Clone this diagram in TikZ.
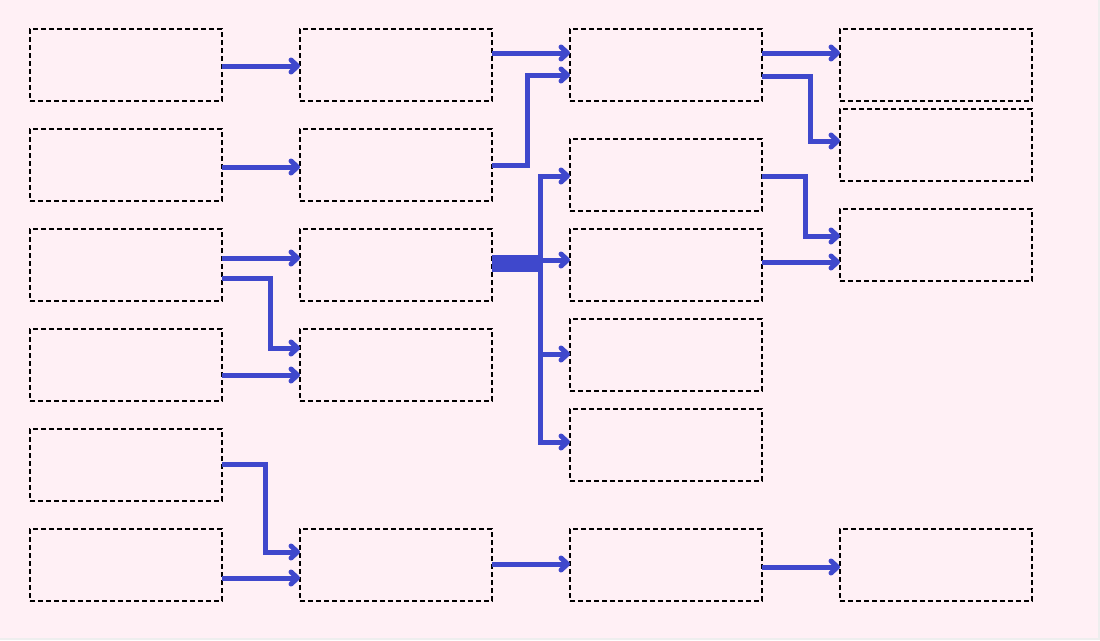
\documentclass[tikz,border=0pt]{standalone}
\usetikzlibrary{arrows.meta}
\definecolor{bg}{HTML}{FFF0F5}
\definecolor{edge}{HTML}{EEEEEE}
\definecolor{arrblue}{HTML}{3F48CC}
\begin{document}
\begin{tikzpicture}[x=1pt,y=-1pt,
  box/.style={draw=black,dash pattern=on 5pt off 3pt,line width=1.5pt,minimum width=192pt,minimum height=72pt,inner sep=0pt,outer sep=0pt},
  arr/.style={draw=arrblue,line width=5pt,line join=miter,-{Straight Barb[length=6.5pt,width=12pt,line cap=round,line join=round]}}]
\fill[edge] (0,0) rectangle (1100,640);
\fill[bg] (0,0) rectangle (1098,638);
\useasboundingbox (0,0) rectangle (1100,640);
% column 1
\node[box] (c11) at (126,65) {};
\node[box] (c12) at (126,165) {};
\node[box] (c13) at (126,265) {};
\node[box] (c14) at (126,365) {};
\node[box] (c15) at (126,465) {};
\node[box] (c16) at (126,565) {};
% column 2
\node[box] (c21) at (396,65) {};
\node[box] (c22) at (396,165) {};
\node[box] (c23) at (396,265) {};
\node[box] (c24) at (396,365) {};
\node[box] (c26) at (396,565) {};
% column 3
\node[box] (c31) at (666,65) {};
\node[box] (c32) at (666,175) {};
\node[box] (c33) at (666,265) {};
\node[box] (c34) at (666,355) {};
\node[box] (c35) at (666,445) {};
\node[box] (c36) at (666,565) {};
% column 4
\node[box] (c41) at (936,65) {};
\node[box] (c42) at (936,145) {};
\node[box] (c43) at (936,245) {};
\node[box] (c46) at (936,565) {};
% connectors col1 -> col2
\draw[arr] ([yshift=-1pt]c11.east) coordinate (a1) -- (a1 -| c21.west);
\draw[arr] ([yshift=-2pt]c12.east) coordinate (a2) -- (a2 -| c22.west);
\draw[arr] ([yshift=7pt]c13.east) coordinate (a3) -- (a3 -| c23.west);
\draw[arr] ([yshift=-13pt]c13.east) -- ++(48,0) |- ([yshift=17pt]c24.west);
\draw[arr] ([yshift=-10pt]c14.east) coordinate (a5) -- (a5 -| c24.west);
\draw[arr] ([yshift=1pt]c15.east) -- ++(43,0) |- ([yshift=13pt]c26.west);
\draw[arr] ([yshift=-13pt]c16.east) coordinate (a7) -- (a7 -| c26.west);
% col2 -> col3
\draw[arr] ([yshift=12pt]c21.east) coordinate (b1) -- (b1 -| c31.west);
\draw[arr] (c22.east) -- ++(35,0) |- ([yshift=-10pt]c31.west);
\draw[arr] ([yshift=7.5pt]c23.east) -- ++(48,0) |- ([yshift=-1pt]c32.west);
\draw[arr] ([yshift=-4pt]c23.east) -- ++(48,0) |- ([yshift=3pt]c35.west);
\draw[arr] ([yshift=0.5pt]c23.east) -- ++(48,0) |- ([yshift=1pt]c34.west);
\draw[arr] ([yshift=5pt]c23.east) coordinate (b4) -- (b4 -| c33.west);
\draw[arr] ([yshift=1pt]c26.east) coordinate (b7) -- (b7 -| c36.west);
% col3 -> col4
\draw[arr] ([yshift=12pt]c31.east) coordinate (d1) -- (d1 -| c41.west);
\draw[arr] ([yshift=-11pt]c31.east) -- ++(48,0) |- ([yshift=4pt]c42.west);
\draw[arr] ([yshift=-1pt]c32.east) -- ++(43,0) |- ([yshift=9pt]c43.west);
\draw[arr] ([yshift=3pt]c33.east) coordinate (d4) -- (d4 -| c43.west);
\draw[arr] ([yshift=-2pt]c36.east) coordinate (d5) -- (d5 -| c46.west);
\end{tikzpicture}
\end{document}
